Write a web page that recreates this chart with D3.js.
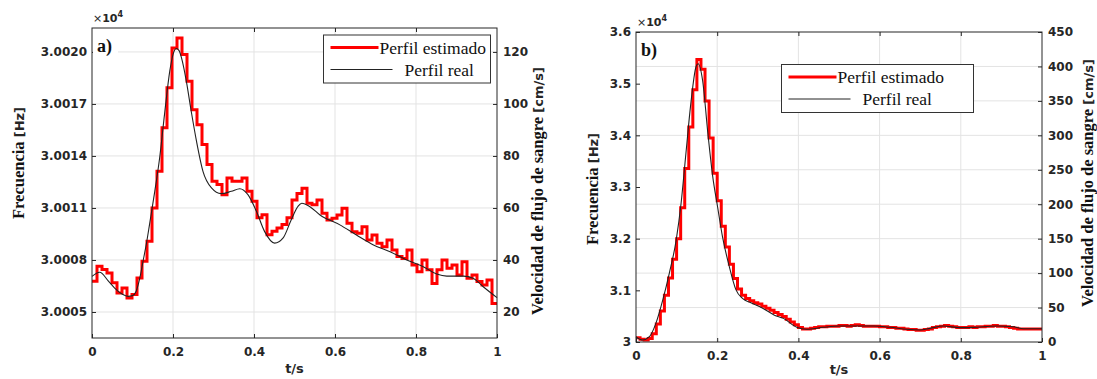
<!DOCTYPE html>
<html>
<head>
<meta charset="utf-8">
<script src="https://cdn.jsdelivr.net/npm/d3@7"></script>
<style>
  body { margin: 0; background: #fff; }
  svg { display: block; }
</style>
</head>
<body>
<svg id="chart" width="1097" height="379"></svg>
<script>
// ---- panel a) data (velocity, cm/s) ----
const tRealA = [0, 0.019, 0.04, 0.056, 0.075, 0.089, 0.1, 0.109, 0.118, 0.126, 0.134, 0.142, 0.155, 0.167, 0.179, 0.192, 0.2, 0.208, 0.215, 0.221, 0.233, 0.245, 0.258, 0.274, 0.295, 0.319, 0.344, 0.365, 0.385, 0.406, 0.426, 0.451, 0.472, 0.492, 0.509, 0.518, 0.538, 0.563, 0.612, 0.653, 0.695, 0.736, 0.777, 0.818, 0.851, 0.876, 0.917, 0.941, 0.966, 1.0];
const vRealA = [33.7, 35.3, 32, 29.2, 26.8, 26.0, 26.3, 28, 33, 39.5, 46, 53.6, 66.4, 79.2, 95.9, 112.6, 119, 121.3, 120.5, 117.7, 108.7, 97.2, 85.7, 74.1, 67.7, 65.5, 66.4, 67.4, 65.1, 58.7, 51.0, 46.5, 48.5, 55.5, 60.7, 61.8, 60.5, 57.3, 53.5, 49.6, 45.8, 43.2, 40, 37.4, 34.6, 33.8, 33.8, 33, 29.7, 25.5];
// estimated profile, one value per time bin
const vEstA = [31.8, 37.6, 36.3, 35, 31.2, 27.3, 29.2, 25.4, 26.7, 33.1,
  39.5, 47.2, 60, 74.1, 90.8, 106.2, 121.5, 125.4, 119, 108.7,
  97.8, 92, 84.4, 76.7, 70.3, 69, 65.1, 71.5, 70.3, 70.3,
  71.5, 66.4, 62.6, 56.2, 57.4, 49.7, 51, 52.3, 53.6, 56.2,
  63.1, 65.6, 67.6, 61.8, 61.2, 63.1, 58, 55.4, 56, 57.3,
  59.9, 54.1, 50.9, 50.3, 52.8, 47.7, 49.6, 46.4, 45.1, 47.7,
  43.8, 41.3, 40.6, 43.8, 38.1, 35.5, 40, 36.2, 31, 36.2,
  40, 36.8, 38.1, 34.2, 39.3, 33, 34.2, 31.7, 30.4, 32.3, 23.3];
const freqTicksA = [3.0005, 3.0008, 3.0011, 3.0014, 3.0017, 3.0020];
const velTicksA = [20, 40, 60, 80, 100, 120];

// ---- panel b) data ----
const tRealB = [0, 0.016, 0.033, 0.049, 0.066, 0.082, 0.099, 0.111, 0.123, 0.135, 0.148, 0.153, 0.164, 0.177, 0.189, 0.201, 0.213, 0.230, 0.246, 0.263, 0.283, 0.312, 0.341, 0.363, 0.396, 0.420, 0.461, 0.502, 0.585, 0.626, 0.667, 0.700, 0.724, 0.757, 0.798, 0.831, 0.888, 0.929, 0.954, 1.0];
const vRealB = [7.7, 2.9, 7.7, 27, 61, 99.7, 148, 201, 274, 346, 400, 404, 380, 303, 240, 196, 153, 109, 76, 63, 57, 49, 39, 34.3, 21.3, 18.4, 21.3, 23.2, 23.2, 21.3, 18.4, 17.4, 19.8, 23.2, 20.8, 21.3, 23.2, 22.2, 19.3, 19.3];
const vEstB = [6, 4, 3, 5, 12, 26, 45, 68, 93, 120,
  150, 195, 252, 312, 366, 410, 396, 350, 296, 245,
  205, 168, 138, 113, 92, 77, 68, 63, 60, 57,
  55, 52, 49, 46, 43, 40, 37, 33, 29, 25,
  21, 19, 19, 20, 21, 22, 22, 23, 23, 23,
  24, 24, 23, 24, 25, 24, 23, 23, 23, 23,
  22, 22, 21, 21, 20, 20, 19, 18, 18, 17,
  17, 18, 19, 21, 22, 23, 24, 23, 22, 21,
  21, 21, 22, 21, 22, 22, 23, 23, 24, 23,
  23, 22, 21, 20, 19, 19, 19, 19, 19, 19];
const freqTicksB = [3, 3.1, 3.2, 3.3, 3.4, 3.5, 3.6];
const velTicksB = [0, 50, 100, 150, 200, 250, 300, 350, 400, 450];

const timeTicks = [0, 0.2, 0.4, 0.6, 0.8, 1];
const legendNames = ["Perfil estimado", "Perfil real"];

const svg = d3.select("#chart");
const sansBold = "'DejaVu Sans', sans-serif";
const serif = "'Liberation Serif', 'Times New Roman', serif";
const axisColor = "#262626";

function drawPanel(p) {
  const g = svg.append("g");
  const x = d3.scaleLinear().domain([0, 1]).range([p.left, p.right]);
  const yF = d3.scaleLinear().domain(p.freqDomain).range([p.bottom, p.top]);
  const yV = d3.scaleLinear().domain(p.velDomain).range([p.bottom, p.top]);

  // grid
  g.selectAll(".gx").data(timeTicks.slice(1, -1)).enter().append("line")
    .attr("x1", d => x(d)).attr("x2", d => x(d))
    .attr("y1", p.top).attr("y2", p.bottom)
    .attr("stroke", "#e3e3e3").attr("stroke-width", 1);
  g.selectAll(".gy").data(p.velTicks.filter(d => yV(d) > p.top + 1 && yV(d) < p.bottom - 1)).enter().append("line")
    .attr("x1", p.left).attr("x2", p.right)
    .attr("y1", d => yV(d)).attr("y2", d => yV(d))
    .attr("stroke", "#e3e3e3").attr("stroke-width", 1);

  // estimated profile as stairs
  const n = p.est.length;
  const estPts = p.est.map((v, i) => [i / n, v]);
  estPts.push([1, p.est[n - 1]]);
  const stairs = d3.line().curve(d3.curveStepAfter)
    .x(d => x(d[0])).y(d => yV(d[1]));
  g.append("path").attr("d", stairs(estPts))
    .attr("fill", "none").attr("stroke", "#ff0000").attr("stroke-width", 3);

  // real profile
  const realPts = p.tReal.map((t, i) => [t, p.vReal[i]]);
  const smooth = d3.line().curve(d3.curveMonotoneX)
    .x(d => x(d[0])).y(d => yV(d[1]));
  g.append("path").attr("d", smooth(realPts))
    .attr("fill", "none").attr("stroke", "#222").attr("stroke-width", 1.1);

  // axes
  const styleAxis = sel => {
    sel.attr("font-family", sansBold).attr("font-size", 12).attr("font-weight", "bold");
    sel.select(".domain").remove();
    sel.selectAll("line").attr("stroke", axisColor);
    sel.selectAll("text").attr("fill", axisColor);
  };
  g.append("g").attr("transform", `translate(0,${p.bottom})`)
    .call(d3.axisBottom(x).tickValues(timeTicks).tickFormat(d3.format("~g"))
      .tickSizeInner(-4).tickSizeOuter(0).tickPadding(9))
    .call(styleAxis);
  g.append("g").attr("transform", `translate(0,${p.top})`)
    .call(d3.axisTop(x).tickValues(timeTicks.slice(1, -1)).tickFormat("")
      .tickSizeInner(-4).tickSizeOuter(0))
    .call(styleAxis);
  g.append("g").attr("transform", `translate(${p.left},0)`)
    .call(d3.axisLeft(yF).tickValues(p.freqTicks).tickFormat(p.freqFormat)
      .tickSizeInner(-4).tickSizeOuter(0).tickPadding(5))
    .call(styleAxis);
  g.append("g").attr("transform", `translate(${p.right},0)`)
    .call(d3.axisRight(yV).tickValues(p.velTicks).tickFormat(d3.format("d"))
      .tickSizeInner(-4).tickSizeOuter(0).tickPadding(6))
    .call(styleAxis);

  // frame
  g.append("rect").attr("x", p.left).attr("y", p.top)
    .attr("width", p.right - p.left).attr("height", p.bottom - p.top)
    .attr("fill", "none").attr("stroke", axisColor).attr("stroke-width", 1);

  // x10^4 exponent
  const ex = g.append("text").attr("x", p.left + 1).attr("y", p.top - 6)
    .attr("font-family", sansBold).attr("font-size", 11).attr("fill", axisColor);
  ex.append("tspan").text("\u00d7");
  ex.append("tspan").attr("font-weight", "bold").text("10");
  ex.append("tspan").attr("font-weight", "bold").attr("font-size", 8).attr("dy", -5).text("4");

  // panel letter
  g.append("rect").attr("x", p.left + 1).attr("y", p.top + 6).attr("width", 25).attr("height", 22).attr("fill", "#fff");
  g.append("text").attr("x", p.left + 5).attr("y", p.letterY)
    .attr("font-family", serif).attr("font-weight", "bold").attr("font-size", 18)
    .attr("fill", "#111").text(p.letter);

  // legend
  const L = p.legend;
  g.append("rect").attr("x", L.x).attr("y", L.y).attr("width", L.w).attr("height", L.h)
    .attr("fill", "#fff").attr("stroke", "#333").attr("stroke-width", 1);
  g.append("line").attr("x1", L.x + 7).attr("x2", L.x + 55)
    .attr("y1", L.y + 12.5).attr("y2", L.y + 12.5)
    .attr("stroke", "#ff0000").attr("stroke-width", 3);
  g.append("line").attr("x1", L.x + 7).attr("x2", L.x + 69)
    .attr("y1", L.y + 34.5).attr("y2", L.y + 34.5)
    .attr("stroke", "#222").attr("stroke-width", 1);
  g.append("text").attr("x", L.x + 56).attr("y", L.y + 18.5)
    .attr("font-family", serif).attr("font-size", 17.5).attr("fill", "#111").text(legendNames[0]);
  g.append("text").attr("x", L.x + 81).attr("y", L.y + 40.5)
    .attr("font-family", serif).attr("font-size", 17.5).attr("fill", "#111").text(legendNames[1]);

  // axis titles
  g.append("text").attr("x", (p.left + p.right) / 2).attr("y", p.xLabY)
    .attr("text-anchor", "middle").attr("font-family", sansBold).attr("font-weight", "bold")
    .attr("font-size", 13).attr("fill", axisColor).text("t/s");

  const ylab = (xPos, yMid, words, unit) => {
    const t = g.append("text").attr("transform", `translate(${xPos},${yMid}) rotate(-90)`)
      .attr("text-anchor", "middle").attr("fill", "#111");
    t.append("tspan").attr("font-family", serif).attr("font-weight", "bold")
      .attr("font-size", 16.5).text(words + " ");
    t.append("tspan").attr("font-family", sansBold).attr("font-weight", "bold").attr("font-size", 13)
      .attr("fill", axisColor).text(unit);
  };
  ylab(p.yLabL[0], p.yLabL[1], "Frecuencia", "[Hz]");
  ylab(p.yLabR[0], p.yLabR[1], "Velocidad de flujo de sangre", "[cm/s]");
}

drawPanel({
  left: 92, right: 497, top: 28, bottom: 338,
  freqDomain: [3.00035, 3.002138], velDomain: [10, 129.2],
  freqTicks: freqTicksA, velTicks: velTicksA,
  freqFormat: d3.format(".4f"),
  est: vEstA, tReal: tRealA, vReal: vRealA,
  letter: "a)", letterY: 52, xLabY: 373,
  legend: { x: 323.5, y: 35, w: 167, h: 48 },
  yLabL: [24, 163], yLabR: [543, 191]
});

drawPanel({
  left: 636, right: 1042, top: 32, bottom: 342,
  freqDomain: [3, 3.6], velDomain: [0, 450],
  freqTicks: freqTicksB, velTicks: velTicksB,
  freqFormat: d3.format("~g"),
  est: vEstB, tReal: tRealB, vReal: vRealB,
  letter: "b)", letterY: 56, xLabY: 374,
  legend: { x: 781.5, y: 64.5, w: 192, h: 48 },
  yLabL: [598, 189], yLabR: [1093, 183]
});
</script>
</body>
</html>
